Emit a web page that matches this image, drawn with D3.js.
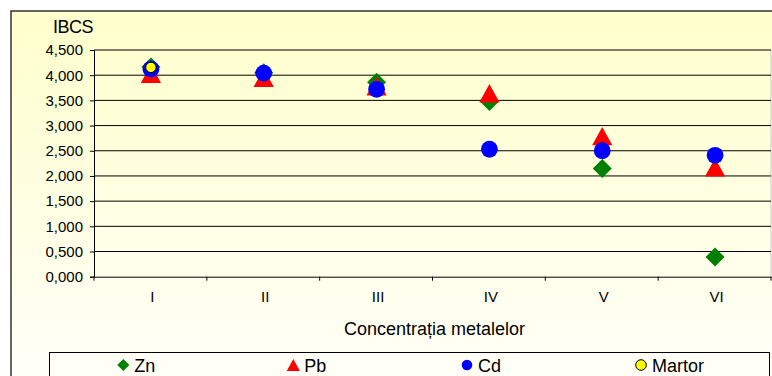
<!DOCTYPE html>
<html lang="ro">
<head>
<meta charset="UTF-8">
<script src="https://d3js.org/d3.v7.min.js"></script>
<style>
  body { margin: 0; background: #fff; }
  svg { display: block; font-family: "Liberation Sans", Arial, sans-serif; }
</style>
</head>
<body>
<svg id="chart" width="772" height="376"></svg>
<script>
// ---- data ----
const categories = ["I", "II", "III", "IV", "V", "VI"];
const zn = [4.165, 4.05, 3.86, 3.48, 2.15, 0.39];
const pb = [4.03, 3.95, 3.78, 3.64, 2.79, 2.17];
const cd = [4.12, 4.04, 3.72, 2.53, 2.50, 2.41];
const martor = [4.155, null, null, null, null, null];
const yTicks = [0, 0.5, 1, 1.5, 2, 2.5, 3, 3.5, 4, 4.5];

const series = [
  { name: "Zn", values: zn, shape: "diamond", fill: "#008000" },
  { name: "Pb", values: pb, shape: "triangle", fill: "#FF0000" },
  { name: "Cd", values: cd, shape: "circle", fill: "#0000FF" },
  { name: "Martor", values: martor, shape: "dot", fill: "#FFFF00" }
];

// ---- layout ----
const plot = { left: 94, right: 771, top: 50, bottom: 276.7 };
const svg = d3.select("#chart");

const defs = svg.append("defs");
const grad = defs.append("linearGradient").attr("id", "bg")
  .attr("x1", 0).attr("y1", 0).attr("x2", 0).attr("y2", 1);
grad.append("stop").attr("offset", "0%").attr("stop-color", "#FFFFCC");
grad.append("stop").attr("offset", "100%").attr("stop-color", "#FFFFFC");

// chart area
svg.append("rect").attr("x", 11).attr("y", 11).attr("width", 780).attr("height", 400)
  .attr("fill", "url(#bg)").attr("stroke", "#333").attr("stroke-width", 1.5);

const x = d3.scaleBand().domain(categories).range([plot.left, plot.right]);
const y = d3.scaleLinear().domain([0, 4.5]).range([plot.bottom, plot.top]);
const fmt = v => d3.format(".3f")(v).replace(".", ",");

// plot area right edge
svg.append("line").attr("x1", plot.right).attr("x2", plot.right)
  .attr("y1", plot.top).attr("y2", plot.bottom).attr("stroke", "#C8C8C8");

// gridlines
svg.append("g").selectAll("line").data(yTicks.filter(d => d > 0)).join("line")
  .attr("x1", plot.left).attr("x2", plot.right)
  .attr("y1", d => y(d)).attr("y2", d => y(d))
  .attr("stroke", "#000").attr("stroke-width", 1);

// y axis
const yAxis = svg.append("g").attr("transform", `translate(${plot.left},0)`)
  .call(d3.axisLeft(y).tickValues(yTicks).tickFormat(fmt).tickSize(4).tickPadding(7));
yAxis.select(".domain").attr("stroke", "#000");
yAxis.selectAll("text").attr("font-size", 15).attr("fill", "#000")
  .attr("font-family", "Liberation Sans, Arial, sans-serif");

// x axis
const xAxis = svg.append("g").attr("transform", `translate(0,${plot.bottom})`)
  .call(d3.axisBottom(x).tickSize(0).tickPadding(15));
xAxis.select(".domain").attr("stroke", "#000");
xAxis.selectAll("text").attr("font-size", 15).attr("fill", "#000").attr("dx", 2)
  .attr("font-family", "Liberation Sans, Arial, sans-serif");
xAxis.selectAll(".tick line").remove();
xAxis.selectAll("line.sep").data(d3.range(categories.length + 1)).join("line")
  .attr("class", "sep")
  .attr("x1", i => plot.left + i * x.step()).attr("x2", i => plot.left + i * x.step())
  .attr("y1", 0).attr("y2", 4).attr("stroke", "#000");

// titles
svg.append("text").attr("x", 53).attr("y", 33).attr("font-size", 18)
  .attr("letter-spacing", -0.5).text("IBCS");
svg.append("text").attr("x", (plot.left + plot.right) / 2 + 2).attr("y", 335)
  .attr("text-anchor", "middle").attr("font-size", 18).text("Concentrația metalelor");

// markers
const symbolPath = (shape, size) => {
  if (shape === "diamond") return `M0,${-size}L${size},0L0,${size}L${-size},0Z`;
  if (shape === "triangle") {
    const h = size * 2, w = size * 1.1;
    return `M0,${-h / 2}L${w},${h / 2}L${-w},${h / 2}Z`;
  }
  return d3.symbol(d3.symbolCircle, Math.PI * size * size)();
};
const markerSize = { diamond: 9.5, triangle: 9.2, circle: 8.4, dot: 5.2 };

series.forEach(s => {
  const pts = categories.map((c, i) => ({ c, v: s.values[i] })).filter(d => d.v != null);
  svg.append("g").selectAll("path").data(pts).join("path")
    .attr("transform", d => `translate(${x(d.c) + x.bandwidth() / 2 + 0.5},${y(d.v)})`)
    .attr("d", symbolPath(s.shape, markerSize[s.shape]))
    .attr("fill", s.fill)
    .attr("stroke", s.shape === "dot" ? "#000" : "none")
    .attr("stroke-width", 1);
});

// legend
svg.append("rect").attr("x", 49.5).attr("y", 352.5).attr("width", 720).attr("height", 40)
  .attr("fill", "none").attr("stroke", "#000").attr("stroke-width", 1);
const legendX = [123.3, 293.3, 467, 641];
const legendSize = { diamond: 6, triangle: 6, circle: 5.3, dot: 5.3 };
series.forEach((s, i) => {
  const g = svg.append("g").attr("transform", `translate(${legendX[i]},365)`);
  g.append("path").attr("d", symbolPath(s.shape, legendSize[s.shape]))
    .attr("fill", s.fill)
    .attr("stroke", s.shape === "dot" ? "#000" : "none");
  g.append("text").attr("x", 11).attr("y", 6.7).attr("font-size", 18).text(s.name);
});
</script>
</body>
</html>
